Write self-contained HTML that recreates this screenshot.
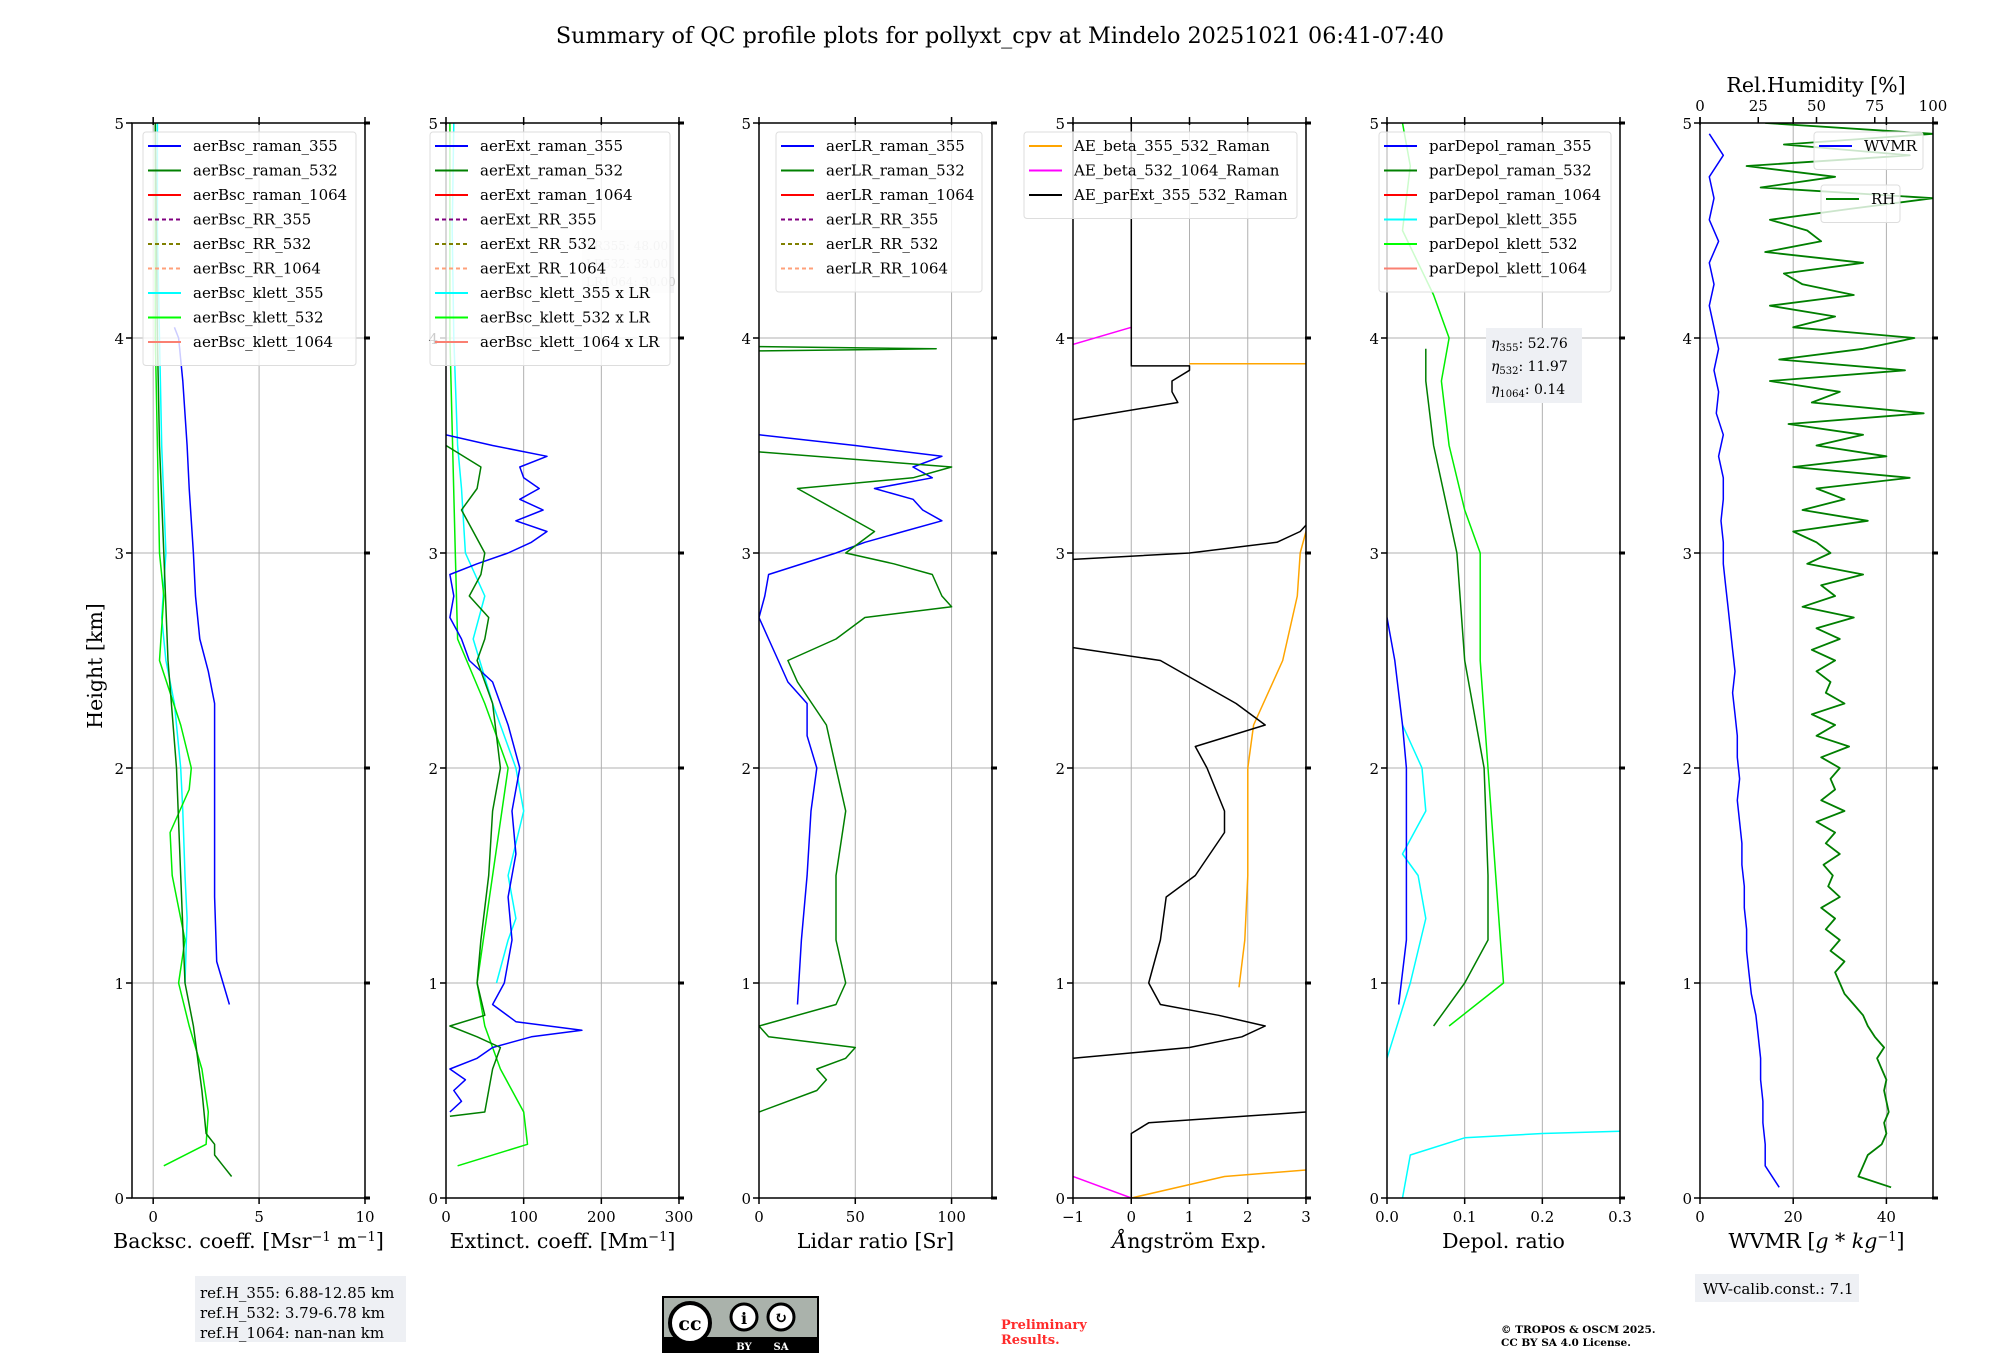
<!DOCTYPE html>
<html><head><meta charset="utf-8"><style>
html,body{margin:0;padding:0;background:#fff;}
svg text{font-family:"DejaVu Serif","Liberation Serif",serif;}
</style></head><body>
<svg id="fig" xmlns="http://www.w3.org/2000/svg" width="2000" height="1360" viewBox="0 0 2000 1360">
<rect width="2000" height="1360" fill="#fff"/>
<text x="1000" y="43" font-size="22.3" text-anchor="middle">Summary of QC profile plots for pollyxt_cpv at Mindelo 20251021 06:41-07:40</text>
<text transform="translate(102,666) rotate(-90)" font-size="20.5" text-anchor="middle">Height [km]</text>
<g id="plots"></g>
<g>
<rect x="195" y="1276" width="211" height="66" fill="#eef0f4"/>
<text x="200" y="1298" font-size="15">ref.H_355: 6.88-12.85 km</text>
<text x="200" y="1318" font-size="15">ref.H_532: 3.79-6.78 km</text>
<text x="200" y="1338" font-size="15">ref.H_1064: nan-nan km</text>
</g>
<g>
<rect x="663" y="1297" width="155" height="55" fill="#aab2ab" stroke="#000" stroke-width="2"/>
<rect x="663" y="1337" width="155" height="15" fill="#000"/>
<circle cx="690" cy="1323" r="20" fill="#fff" stroke="#000" stroke-width="4"/>
<text x="690" y="1330" font-size="19" font-weight="bold" text-anchor="middle" font-family="Liberation Sans">cc</text>
<circle cx="744" cy="1317" r="13" fill="#fff" stroke="#000" stroke-width="3"/>
<text x="744" y="1324" font-size="16" font-weight="bold" text-anchor="middle">i</text>
<circle cx="781" cy="1317" r="13" fill="#fff" stroke="#000" stroke-width="3"/>
<text x="781" y="1323" font-size="16" font-weight="bold" text-anchor="middle">↻</text>
<text x="744" y="1350" font-size="10" fill="#fff" font-weight="bold" text-anchor="middle" font-family="Liberation Sans">BY</text>
<text x="781" y="1350" font-size="10" fill="#fff" font-weight="bold" text-anchor="middle" font-family="Liberation Sans">SA</text>
</g>
<text x="1001" y="1329" font-size="13" font-weight="bold" fill="#ff2b2b">Preliminary</text>
<text x="1001" y="1344" font-size="13" font-weight="bold" fill="#ff2b2b">Results.</text>
<text x="1501" y="1333" font-size="10.5" font-weight="bold">© TROPOS &amp; OSCM 2025.</text>
<text x="1501" y="1346" font-size="10.5" font-weight="bold">CC BY SA 4.0 License.</text>
<g>
<rect x="1695" y="1274" width="164" height="28" fill="#eef0f4"/>
<text x="1703" y="1294" font-size="15">WV-calib.const.: 7.1</text>
</g>
</svg>
<script>
// ---- data (height km, value) ----
const bsc355H=[0.9,1.1,1.4,1.7,2.0,2.3,2.45,2.6,2.8,3.0,3.3,3.5,3.8,4.0,4.05];
const bsc355V=[3.6,3.0,2.9,2.9,2.9,2.9,2.6,2.2,2.0,1.9,1.7,1.6,1.4,1.2,1.0];
const bsc532H=[0.1,0.15,0.2,0.25,0.3,0.5,0.8,1.0,1.5,2.0,2.5,3.0,3.5,4.0,5.0];
const bsc532V=[3.7,3.3,2.9,2.9,2.5,2.3,1.9,1.5,1.3,1.1,0.7,0.5,0.3,0.2,0.1];
const bscK355H=[1.0,1.3,1.5,1.8,2.0,2.3,2.5,2.7,3.0,3.5,4.0,4.5,5.0];
const bscK355V=[1.5,1.6,1.5,1.4,1.3,1.0,0.6,0.4,0.6,0.4,0.3,0.2,0.2];
const bscK532H=[0.15,0.25,0.4,0.6,0.8,1.0,1.2,1.5,1.7,1.9,2.0,2.2,2.5,2.8,3.0,3.5,4.0,5.0];
const bscK532V=[0.5,2.5,2.6,2.3,1.7,1.2,1.5,0.9,0.8,1.7,1.8,1.3,0.3,0.5,0.3,0.2,0.1,0.1];
const ext355H=[0.4,0.45,0.5,0.55,0.6,0.65,0.7,0.75,0.78,0.82,0.9,1.0,1.2,1.4,1.6,1.8,2.0,2.2,2.4,2.5,2.6,2.7,2.8,2.9,2.95,3.0,3.05,3.1,3.15,3.2,3.25,3.3,3.35,3.4,3.45,3.5,3.55];
const ext355V=[5,20,10,25,5,40,60,110,175,90,60,75,85,80,90,85,95,80,60,30,20,5,10,5,40,80,110,130,90,125,95,120,100,95,130,60,0];
const ext532H=[0.38,0.4,0.5,0.6,0.7,0.75,0.8,0.85,1.0,1.2,1.5,1.8,2.0,2.3,2.5,2.6,2.7,2.8,2.9,3.0,3.1,3.2,3.3,3.4,3.5];
const ext532V=[5,50,55,60,70,40,5,50,40,45,55,60,70,60,40,50,55,30,45,50,35,20,40,45,0];
const extK355H=[1.0,1.2,1.3,1.5,1.8,2.0,2.3,2.6,2.8,3.0,3.3,3.5,4.0,4.5,5.0];
const extK355V=[65,80,90,80,100,90,60,35,50,25,20,15,10,8,10];
const extK532H=[0.15,0.25,0.4,0.6,0.8,1.0,1.5,2.0,2.3,2.6,3.0,4.0,5.0];
const extK532V=[15,105,100,70,50,40,60,80,50,15,12,5,5];
const lr355H=[0.9,1.2,1.5,1.8,2.0,2.15,2.3,2.4,2.5,2.6,2.7,2.8,2.9,3.0,3.05,3.1,3.15,3.2,3.25,3.3,3.35,3.4,3.45,3.5,3.55];
const lr355V=[20,22,25,27,30,25,25,15,10,5,0,3,5,40,55,75,95,85,80,60,90,80,95,50,0];
const lr532H=[0.4,0.5,0.55,0.6,0.65,0.7,0.75,0.8,0.9,1.0,1.2,1.5,1.8,2.0,2.2,2.4,2.5,2.6,2.7,2.75,2.8,2.9,2.95,3.0,3.1,3.2,3.3,3.35,3.4,3.47,null,3.94,3.95,3.96];
const lr532V=[0,30,35,30,45,50,5,0,40,45,40,40,45,40,35,20,15,40,55,100,95,90,70,45,60,40,20,80,100,0,null,0,92,0];
const aeb355H=[0,0.1,0.13,null,0.98,1.2,1.5,2.0,2.2,2.5,2.8,3.0,3.1,null,3.88,3.88];
const aeb355V=[0,1.6,3,null,1.85,1.95,2.0,2.0,2.1,2.6,2.85,2.9,3.0,null,1.0,3.0];
const aeb532H=[0.1,0,null,3.97,4.05];
const aeb532V=[-1,0,null,-1,0];
const aeExtH=[0,0.3,0.35,0.4,null,0.65,0.7,0.75,0.8,0.85,0.9,1.0,1.2,1.4,1.5,1.7,1.8,2.0,2.1,2.2,2.3,2.5,2.56,null,2.97,3.0,3.05,3.1,3.13,null,3.62,3.7,3.75,3.8,3.85,3.87,3.87,5.0];
const aeExtV=[0,0,0.3,3,null,-1,1.0,1.9,2.3,1.5,0.5,0.3,0.5,0.6,1.1,1.6,1.6,1.3,1.1,2.3,1.8,0.5,-1,null,-1,1.0,2.5,2.9,3,null,-1,0.8,0.7,0.7,1.0,1.0,0,0];
const dp355H=[0.9,1.2,1.5,2.0,2.2,2.5,2.7];
const dp355V=[0.015,0.025,0.025,0.025,0.02,0.01,0.0];
const dp532H=[0.8,1.0,1.2,1.5,2.0,2.5,3.0,3.5,3.8,3.95];
const dp532V=[0.06,0.1,0.13,0.13,0.125,0.1,0.09,0.06,0.05,0.05];
const dpK355H=[0,0.2,0.28,0.3,0.31,null,0.65,1.0,1.3,1.5,1.6,1.8,2.0,2.2];
const dpK355V=[0.02,0.03,0.1,0.2,0.3,null,0,0.03,0.05,0.04,0.02,0.05,0.045,0.02];
const dpK532H=[0.8,1.0,1.5,2.0,2.5,3.0,3.2,3.5,3.8,4.0,4.2,4.5,4.8,5.0];
const dpK532V=[0.08,0.15,0.14,0.13,0.12,0.12,0.1,0.08,0.07,0.08,0.06,0.02,0.03,0.02];
const rhH=[0.05,0.1,0.15,0.2,0.25,0.3,0.35,0.4,0.45,0.5,0.55,0.6,0.65,0.7,0.75,0.8,0.85,0.9,0.95,1.0,1.05,1.1,1.15,1.2,1.25,1.3,1.35,1.4,1.45,1.5,1.55,1.6,1.65,1.7,1.75,1.8,1.85,1.9,1.95,2.0,2.05,2.1,2.15,2.2,2.25,2.3,2.35,2.4,2.45,2.5,2.55,2.6,2.65,2.7,2.75,2.8,2.85,2.9,2.95,3.0,3.05,3.1,3.15,3.2,3.25,3.3,3.35,3.4,3.45,3.5,3.55,3.6,3.65,3.7,3.75,3.8,3.85,3.9,3.95,4.0,4.05,4.1,4.15,4.2,4.25,4.3,4.35,4.4,4.45,4.5,4.55,4.6,4.65,4.7,4.75,4.8,4.85,4.9,4.95,5.0];
const rhV=[82,68,70,72,78,80,79,81,80,79,80,78,76,79,75,72,70,66,62,60,58,62,56,60,54,58,52,60,55,57,53,60,54,58,50,62,52,58,56,60,52,64,50,58,48,62,54,56,50,58,48,60,50,66,44,58,52,70,46,56,50,40,72,44,62,50,90,40,80,50,70,38,96,48,60,30,88,34,70,92,40,58,30,66,44,36,70,28,52,46,30,64,100,26,58,20,90,36,100,28];
const wvH=[0.05,0.15,0.25,0.35,0.45,0.55,0.65,0.75,0.85,0.95,1.05,1.15,1.25,1.35,1.45,1.55,1.65,1.75,1.85,1.95,2.05,2.15,2.25,2.35,2.45,2.55,2.65,2.75,2.85,2.95,3.05,3.15,3.25,3.35,3.45,3.55,3.65,3.75,3.85,3.95,4.05,4.15,4.25,4.35,4.45,4.55,4.65,4.75,4.85,4.95];
const wvV=[17,14,14,13.5,13.5,13,13,12.5,12,11,10.5,10,10,9.5,9.5,9,9,8.5,8,8.5,8,8,7.5,7,7.5,7,6.5,6,5.5,5,5,4.5,5,5,4,5,3.5,4,3,4,3,2,3,2,4,2,3,2,5,2];

const TOP=123,BOT=1198,KM=(BOT-TOP)/5,W=233;
const NS='http://www.w3.org/2000/svg';
const root=document.getElementById('plots');
function mk(tag,attrs,parent){const e=document.createElementNS(NS,tag);for(const k in attrs)e.setAttribute(k,attrs[k]);(parent||root).appendChild(e);return e;}
function yOf(h){return BOT-h*KM;}

function makePanel(name,left,xmin,xmax,ticks,tlabels,xlabel){
  const g=mk('g',{});
  
  
  const xs=v=>left+(v-xmin)/(xmax-xmin)*W;
  ticks.forEach((t,i)=>{
    const x=xs(t);
    if(x>left+1&&x<left+W-1){const gl=mk('line',{x1:x,x2:x,y1:TOP,y2:BOT,stroke:'#b0b0b0','stroke-width':1},g);}
    mk('line',{x1:x,x2:x,y1:BOT,y2:BOT+6,stroke:'#000','stroke-width':1.5},g);
    mk('line',{x1:x,x2:x,y1:TOP-6,y2:TOP+2,stroke:'#000','stroke-width':1.5},g);
    const tl=mk('text',{x:x,y:BOT+24,'font-size':15,'text-anchor':'middle'},g);
    
    
    tl.textContent=tlabels[i];
  });
  for(let k=0;k<=5;k++){
    const y=yOf(k);
    if(k>0&&k<5){const gl=mk('line',{x1:left,x2:left+W,y1:y,y2:y,stroke:'#b0b0b0','stroke-width':1},g);}
    mk('line',{x1:left-6,x2:left,y1:y,y2:y,stroke:'#000','stroke-width':1.5},g);
    mk('line',{x1:left+W-1,x2:left+W+5,y1:y,y2:y,stroke:'#000','stroke-width':3},g);
    const tl=mk('text',{x:left-8,y:y+6,'font-size':15,'text-anchor':'end'},g);
    
    
    tl.textContent=String(k);
  }
  const xl=mk('text',{x:left+W/2,y:BOT+50,'font-size':20.5,'text-anchor':'middle'},g);
  
  
  xl.innerHTML=xlabel;
  return {g,xs};
}
function frame(p,left){
  const r=mk('rect',{x:left,y:TOP,width:W,height:BOT-TOP,fill:'none',stroke:'#000','stroke-width':1.5},p.g);
  
  
}
function series(p,H,V,color,name,xs2,lw){
  const f=xs2||p.xs;let d='',pen=false;
  for(let i=0;i<H.length;i++){
    if(H[i]===null||V[i]===null){pen=false;continue;}
    d+=(pen?'L':'M')+f(V[i]).toFixed(1)+','+yOf(H[i]).toFixed(1);pen=true;
  }
  const cp=mk('clipPath',{id:'c'+name},p.g);
  mk('rect',{x:p.left,y:TOP,width:W,height:BOT-TOP},cp);
  const e=mk('path',{d:d,fill:'none',stroke:color,'stroke-width':lw||1.5,'stroke-linejoin':'round','clip-path':'url(#c'+name+')'},p.g);
  
  
}
function legend(p,x,y,w,entries,name){
  const lg=mk('g',{},p.g);
  
  
  mk('rect',{x:x,y:y,width:w,height:entries.length*24.5+13,rx:3,fill:'#fff','fill-opacity':0.8,stroke:'#ddd'},lg);
  entries.forEach((en,i)=>{
    const yy=y+14+i*24.5;
    mk('line',{x1:x+5,x2:x+38,y1:yy,y2:yy,stroke:en[1],'stroke-width':2,'stroke-dasharray':en[2]?'4,3':'none'},lg);
    const t=mk('text',{x:x+50,y:yy+5,'font-size':15},lg);
    
    
    t.textContent=en[0];
  });
}
const lefts=[132,446,759,1073,1387,1700];
// Panel 1
let p=makePanel('backscatter-panel',lefts[0],-1,10,[0,5,10],['0','5','10'],'Backsc. coeff. [Msr<tspan baseline-shift="super" font-size="13">−1</tspan> m<tspan baseline-shift="super" font-size="13">−1</tspan>]');p.left=lefts[0];
series(p,bscK355H,bscK355V,'#00ffff','bsc-klett-355');
series(p,bscK532H,bscK532V,'#00ee00','bsc-klett-532');
series(p,bsc355H,bsc355V,'#0000ff','bsc-raman-355');
series(p,bsc532H,bsc532V,'#007f00','bsc-raman-532');
frame(p,lefts[0]);
legend(p,143,132,213,[['aerBsc_raman_355','blue'],['aerBsc_raman_532','green'],['aerBsc_raman_1064','red'],['aerBsc_RR_355','purple',1],['aerBsc_RR_532','olive',1],['aerBsc_RR_1064','#ffa07a',1],['aerBsc_klett_355','cyan'],['aerBsc_klett_532','lime'],['aerBsc_klett_1064','#fa8072']],'backscatter-legend');
// Panel 2
p=makePanel('extinction-panel',lefts[1],0,300,[0,100,200,300],['0','100','200','300'],'Extinct. coeff. [Mm<tspan baseline-shift="super" font-size="13">−1</tspan>]');p.left=lefts[1];
series(p,extK355H,extK355V,'#00ffff','ext-klett-355');
series(p,extK532H,extK532V,'#00ee00','ext-klett-532');
series(p,ext355H,ext355V,'#0000ff','ext-raman-355');
series(p,ext532H,ext532V,'#007f00','ext-raman-532');
frame(p,lefts[1]);
{const b=mk('g',{},p.g);
mk('rect',{x:582,y:230,width:92,height:63,fill:'#f4f4f6'},b);
['LR355: 48.00','LR532: 39.00','LR1064: 30.00'].forEach((s,i)=>{const t=mk('text',{x:586,y:250+i*18,'font-size':12,fill:'#c8c8c8'},b);t.textContent=s;});}
legend(p,430,132,240,[['aerExt_raman_355','blue'],['aerExt_raman_532','green'],['aerExt_raman_1064','red'],['aerExt_RR_355','purple',1],['aerExt_RR_532','olive',1],['aerExt_RR_1064','#ffa07a',1],['aerBsc_klett_355 x LR','cyan'],['aerBsc_klett_532 x LR','lime'],['aerBsc_klett_1064 x LR','#fa8072']],'extinction-legend');
// Panel 3
p=makePanel('lidar-ratio-panel',lefts[2],0,121,[0,50,100],['0','50','100'],'Lidar ratio [Sr]');p.left=lefts[2];
series(p,lr355H,lr355V,'#0000ff','lr-raman-355');
series(p,lr532H,lr532V,'#007f00','lr-raman-532');
frame(p,lefts[2]);
legend(p,776,132,206,[['aerLR_raman_355','blue'],['aerLR_raman_532','green'],['aerLR_raman_1064','red'],['aerLR_RR_355','purple',1],['aerLR_RR_532','olive',1],['aerLR_RR_1064','#ffa07a',1]],'lidar-ratio-legend');
// Panel 4
p=makePanel('angstrom-panel',lefts[3],-1,3,[-1,0,1,2,3],['−1','0','1','2','3'],'<tspan font-style="italic">Å</tspan>ngström Exp.');p.left=lefts[3];
series(p,aeb355H,aeb355V,'#ffa500','ae-beta-355-532');
series(p,aeb532H,aeb532V,'#ff00ff','ae-beta-532-1064');
series(p,aeExtH,aeExtV,'#000000','ae-parext-355-532');
frame(p,lefts[3]);
legend(p,1024,132,273,[['AE_beta_355_532_Raman','orange'],['AE_beta_532_1064_Raman','magenta'],['AE_parExt_355_532_Raman','black']],'angstrom-legend');
// Panel 5
p=makePanel('depol-panel',lefts[4],0,0.3,[0,0.1,0.2,0.3],['0.0','0.1','0.2','0.3'],'Depol. ratio');p.left=lefts[4];
series(p,dpK355H,dpK355V,'#00ffff','depol-klett-355');
series(p,dpK532H,dpK532V,'#00ee00','depol-klett-532');
series(p,dp355H,dp355V,'#0000ff','depol-raman-355');
series(p,dp532H,dp532V,'#007f00','depol-raman-532');
frame(p,lefts[4]);
legend(p,1379,132,232,[['parDepol_raman_355','blue'],['parDepol_raman_532','green'],['parDepol_raman_1064','red'],['parDepol_klett_355','cyan'],['parDepol_klett_532','lime'],['parDepol_klett_1064','#fa8072']],'depol-legend');
{const b=mk('g',{},p.g);
mk('rect',{x:1486,y:328,width:96,height:75,fill:'#eef0f4'},b);
[['355','52.76'],['532','11.97'],['1064','0.14']].forEach((s,i)=>{const t=mk('text',{x:1491,y:348+i*23,'font-size':14},b);t.innerHTML='<tspan font-style="italic">η</tspan><tspan font-size="10" dy="3">'+s[0]+'</tspan><tspan dy="-3">: '+s[1]+'</tspan>';});}
// Panel 6
p=makePanel('wvmr-panel',lefts[5],0,50,[0,20,40],['0','20','40'],'WVMR [<tspan font-style="italic">g</tspan> * <tspan font-style="italic">kg</tspan><tspan baseline-shift="super" font-size="13">−1</tspan>]');p.left=lefts[5];
const rhX=v=>lefts[5]+v/100*W;
series(p,rhH,rhV,'#007f00','rh-profile',rhX,1.8);
series(p,wvH,wvV,'#0000ff','wvmr-profile');
frame(p,lefts[5]);
[0,25,50,75,100].forEach(t=>{const x=rhX(t);mk('line',{x1:x,x2:x,y1:TOP-6,y2:TOP,stroke:'#000','stroke-width':1.5},p.g);const tl=mk('text',{x:x,y:TOP-12,'font-size':15,'text-anchor':'middle'},p.g);tl.textContent=String(t);});
{const t=mk('text',{x:1816,y:92,'font-size':20.5,'text-anchor':'middle'},p.g);t.textContent='Rel.Humidity [%]';}
legend(p,1814,132,109,[['WVMR','blue']],'wvmr-legend');
legend(p,1821,185,79,[['RH','green']],'rh-legend');
</script>
</body></html>
